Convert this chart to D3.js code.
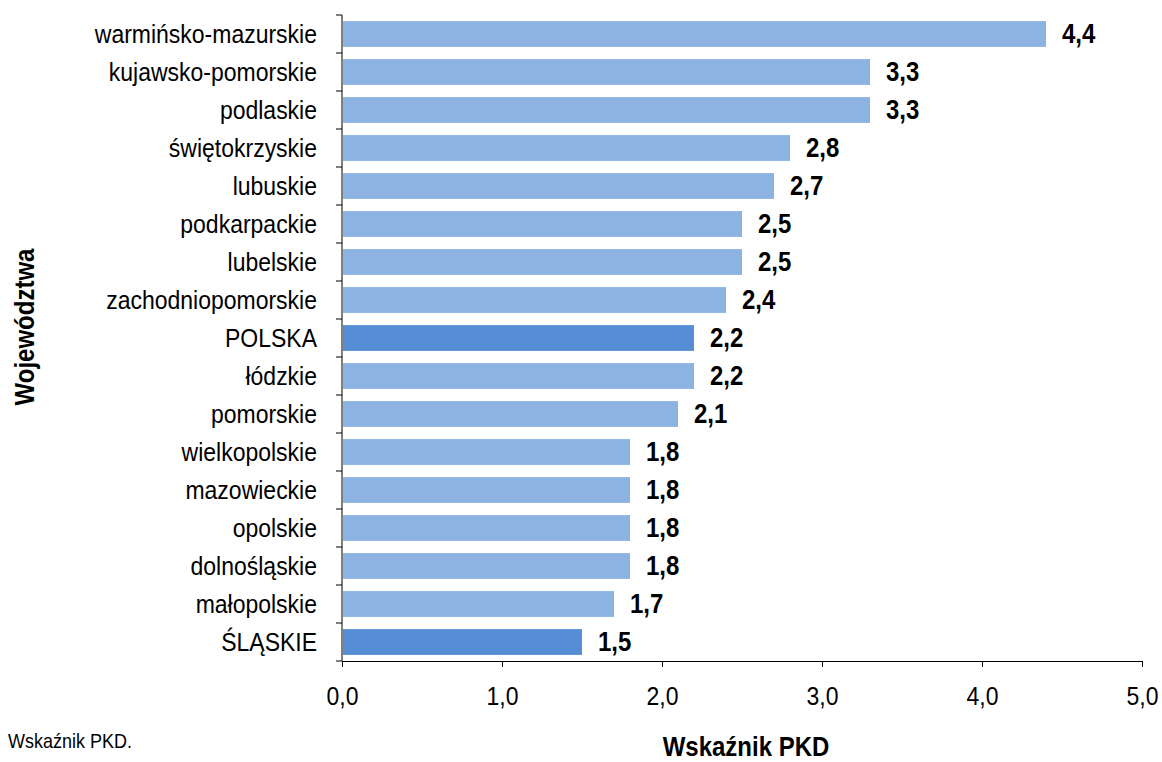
<!DOCTYPE html>
<html><head><meta charset="utf-8">
<script src="https://cdn.jsdelivr.net/npm/d3@7"></script>
<style>
body{margin:0;background:#fff;}
text{font-family:"Liberation Sans",Arial,sans-serif;}
</style></head>
<body><svg id="c" width="1162" height="762"></svg>
<script>
const categories = ["warmińsko-mazurskie","kujawsko-pomorskie","podlaskie","świętokrzyskie","lubuskie","podkarpackie","lubelskie","zachodniopomorskie","POLSKA","łódzkie","pomorskie","wielkopolskie","mazowieckie","opolskie","dolnośląskie","małopolskie","ŚLĄSKIE"];
const values = [4.4,3.3,3.3,2.8,2.7,2.5,2.5,2.4,2.2,2.2,2.1,1.8,1.8,1.8,1.8,1.7,1.5];
const highlighted = ["POLSKA","ŚLĄSKIE"];
const xTicks = [0,1,2,3,4,5];

const K = 1.15; // vertical stretch to mimic a narrow typeface
const svg = d3.select("#c");
const x = d3.scaleLinear().domain([0,5]).range([342,1142]);
const y = d3.scaleBand().domain(categories).range([15,661]).paddingInner(0.32).paddingOuter(0.16);
const fmt = v => d3.format(".1f")(v).replace(".", ",");
const tr = (px,py) => `translate(${px},${py}) scale(1,${K})`;

// bars
svg.selectAll("rect.bar").data(categories).join("rect")
  .attr("x", x(0)+1).attr("y", d=>y(d))
  .attr("width", (d,i)=>x(values[i])-x(0)-1).attr("height", y.bandwidth())
  .attr("fill", d=>highlighted.includes(d)?"#558ED5":"#8DB3E2");

// value labels
svg.selectAll("text.val").data(categories).join("text")
  .attr("transform",(d,i)=>tr(x(values[i])+16, y(d)+y.bandwidth()/2+9))
  .attr("font-size",24).attr("font-weight","bold").attr("fill","#000")
  .text((d,i)=>fmt(values[i]));

// y axis
const ya = svg.append("g").attr("transform",`translate(${x(0)},0)`);
ya.append("line").attr("x1",0).attr("x2",0).attr("y1",15).attr("y2",661).attr("stroke","#000").attr("stroke-width",1);
const bounds = d3.range(categories.length+1).map(i=>15+i*y.step());
ya.selectAll("line.t").data(bounds).join("line").attr("x1",-6).attr("x2",0).attr("y1",d=>d).attr("y2",d=>d).attr("stroke","#000");
ya.selectAll("text").data(categories).join("text")
  .attr("transform",d=>tr(-25, y(d)+y.bandwidth()/2+9))
  .attr("text-anchor","end").attr("font-size",23).attr("fill","#000").text(d=>d);

// x axis
const xa = svg.append("g").attr("transform","translate(0,661)")
  .call(d3.axisBottom(x).tickValues(xTicks).tickFormat(fmt).tickSize(6));
xa.select(".domain").attr("stroke","#000");
xa.selectAll(".tick line").attr("stroke","#000");
xa.selectAll(".tick text").attr("y",0).attr("dy",null).attr("transform",tr(0,44))
  .attr("font-size",23).attr("fill","#000")
  .style("font-family",'"Liberation Sans",Arial,sans-serif');

// titles
svg.append("text").attr("transform",tr(746,756)).attr("text-anchor","middle")
  .attr("font-size",24).attr("font-weight","bold").text("Wskaźnik PKD");
svg.append("text").attr("transform",`translate(34,327) rotate(-90) scale(1,${K})`).attr("text-anchor","middle")
  .attr("font-size",24).attr("font-weight","bold").text("Województwa");
svg.append("text").attr("transform",tr(8,748)).attr("font-size",18).text("Wskaźnik PKD.");
</script></body></html>
